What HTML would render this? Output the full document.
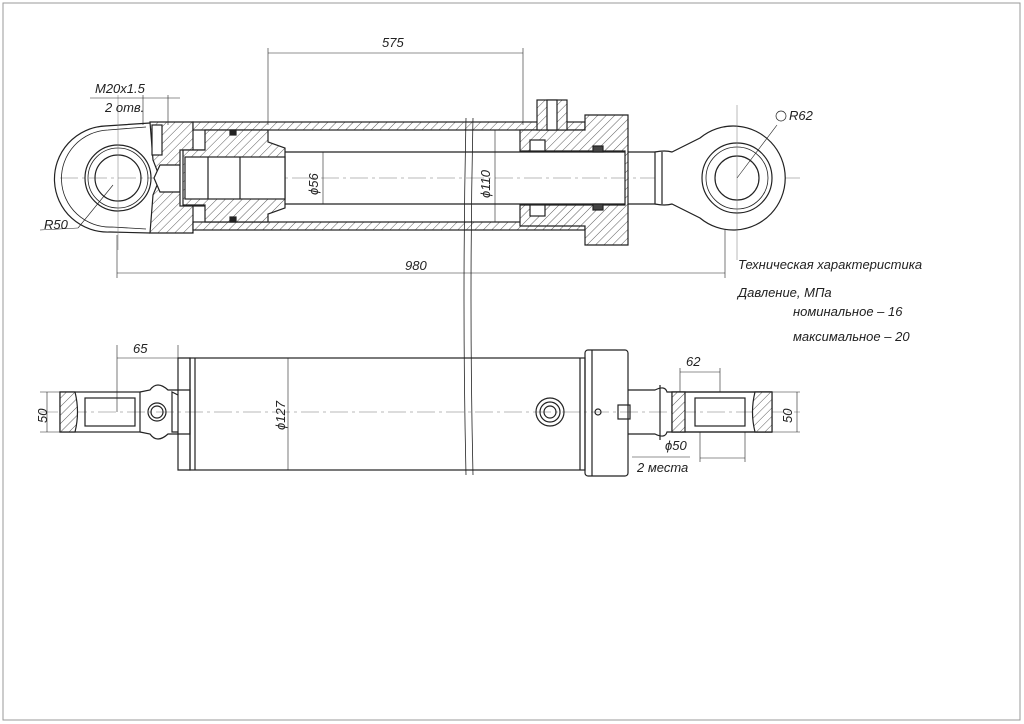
<!DOCTYPE html>
<html><head><meta charset="utf-8"><style>
html,body{margin:0;padding:0;background:#fff}
svg{display:block}
text{font-family:"Liberation Sans","DejaVu Sans",sans-serif;font-style:italic;fill:#222}
</style></head><body>
<svg width="1024" height="724" viewBox="0 0 1024 724" xmlns="http://www.w3.org/2000/svg">
<defs>
<pattern id="h" width="6" height="6" patternUnits="userSpaceOnUse" patternTransform="rotate(45)">
<rect width="6" height="6" fill="#fff"/><line x1="0" y1="0" x2="0" y2="6" stroke="#333" stroke-width="0.8"/></pattern>
</defs>
<rect x="3" y="3" width="1017" height="717" fill="none" stroke="#999" stroke-width="1"/>
<g stroke="#222" fill="none" stroke-width="1.2">
<!-- centerlines -->
<line x1="60" y1="178" x2="800" y2="178" stroke="#777" stroke-width="0.6" stroke-dasharray="18 4 3 4"/>
<line x1="40" y1="412" x2="800" y2="412" stroke="#777" stroke-width="0.6" stroke-dasharray="18 4 3 4"/>
<!-- left eye top -->
<path d="M150 123 L105 126 A52 52 0 0 0 110 232 L150 233" />
<path d="M146 127 L108 130 A47 47 0 0 0 112 227 L146 229" stroke-width="0.8"/>
<circle cx="118" cy="178" r="33"/>
<circle cx="118" cy="178" r="30" stroke-width="0.8"/>
<circle cx="118" cy="178" r="23"/>
<line x1="118" y1="95" x2="118" y2="250" stroke="#777" stroke-width="0.5"/>
<line x1="78" y1="228" x2="113" y2="185" stroke-width="0.6"/>
<line x1="40" y1="230" x2="78" y2="228" stroke-width="0.6"/>
<!-- left head -->
<path d="M150 122 L193 122 L193 233 L150 233 L153 195 L160 178 L153 160 Z" fill="url(#h)"/>
<rect x="152" y="125" width="10" height="30" fill="#fff"/>
<path d="M160 165 L180 165 L180 192 L160 192 L154 178 Z" fill="#fff"/>
<rect x="180" y="150" width="28" height="56" fill="#fff"/>
<!-- tube -->
<rect x="193" y="122" width="392" height="8" fill="url(#h)"/>
<rect x="193" y="222" width="392" height="8" fill="url(#h)"/>
<!-- piston -->
<path d="M205 130 L268 130 L268 142 L285 148 L285 208 L268 214 L268 222 L205 222 L205 205 L183 205 L183 150 L205 150 Z" fill="url(#h)"/>
<rect x="185" y="157" width="100" height="42" fill="#fff"/>
<line x1="208" y1="157" x2="208" y2="199"/><line x1="240" y1="157" x2="240" y2="199"/>
<rect x="230" y="130" width="6" height="5" fill="#222"/><rect x="230" y="217" width="6" height="5" fill="#222"/>
<!-- rod -->
<line x1="285" y1="152" x2="660" y2="152"/><line x1="285" y1="204" x2="660" y2="204"/>
<!-- gland -->
<path d="M520 130 L585 130 L585 115 L628 115 L628 245 L585 245 L585 226 L520 226 L520 205 L625 205 L625 151 L520 151 Z" fill="url(#h)"/>
<rect x="537" y="100" width="30" height="30" fill="url(#h)"/>
<rect x="547" y="100" width="10" height="30" fill="#fff"/>
<rect x="530" y="140" width="15" height="11" fill="#fff"/><rect x="530" y="205" width="15" height="11" fill="#fff"/>
<rect x="593" y="146" width="10" height="6" fill="#444"/><rect x="593" y="204" width="10" height="6" fill="#444"/>
<!-- rod end eye -->
<path d="M655 152 Q665 150 672 152 L700 138 A52 52 0 1 1 700 218 L672 204 Q665 206 655 204 Z" fill="#fff"/>
<line x1="662" y1="152" x2="662" y2="204"/>
<circle cx="737" cy="178" r="35"/>
<circle cx="737" cy="178" r="31" stroke-width="0.8"/>
<circle cx="737" cy="178" r="22"/>
<line x1="737" y1="105" x2="737" y2="260" stroke="#777" stroke-width="0.5"/>
<line x1="737" y1="178" x2="777" y2="125" stroke-width="0.6"/>
<circle cx="781" cy="116" r="5" stroke-width="0.7"/>
<!-- break line -->
<path d="M466 118 Q462 300 466 475" stroke-width="0.8"/>
<path d="M473 118 Q469 300 473 475" stroke-width="0.8"/>
<!-- dims top -->
<g stroke-width="0.6">
<line x1="268" y1="48" x2="268" y2="125"/><line x1="523" y1="48" x2="523" y2="125"/>
<line x1="268" y1="53" x2="523" y2="53"/>
<line x1="117" y1="235" x2="117" y2="278"/><line x1="725" y1="230" x2="725" y2="278"/>
<line x1="117" y1="273" x2="725" y2="273"/>
<line x1="323" y1="152" x2="323" y2="204"/>
<line x1="495" y1="130" x2="495" y2="222"/>
<line x1="90" y1="98" x2="180" y2="98"/>
<line x1="143" y1="95" x2="143" y2="125"/><line x1="168" y1="95" x2="168" y2="125"/>
</g>
<!-- bottom view -->
<path d="M178 358 L190 358 L190 470 L178 470 Z"/>
<path d="M178 395 L172 392 L172 432 L178 432"/>
<rect x="190" y="358" width="395" height="112"/>
<line x1="195" y1="358" x2="195" y2="470"/>
<line x1="580" y1="358" x2="580" y2="470"/>
<rect x="585" y="350" width="43" height="126" rx="3"/>
<line x1="592" y1="350" x2="592" y2="476"/>
<circle cx="598" cy="412" r="3"/>
<rect x="618" y="405" width="12" height="14"/>
<path d="M628 390 L655 390 Q665 385 667 392 L772 392 M628 434 L655 434 Q665 439 667 432 L772 432"/>
<line x1="660" y1="385" x2="660" y2="440"/>
<rect x="672" y="392" width="100" height="40"/>
<path d="M755 392 L772 392 L772 432 L755 432 Q750 412 755 392 Z" fill="url(#h)"/>
<path d="M672 392 L685 392 L685 432 L672 432 Z" fill="url(#h)"/>
<rect x="695" y="398" width="50" height="28"/>
<rect x="60" y="392" width="80" height="40"/>
<path d="M60 392 L75 392 Q80 412 75 432 L60 432 Z" fill="url(#h)"/>
<rect x="85" y="398" width="50" height="28"/>
<path d="M140 392 L150 390 Q157 380 168 390 L190 390 L190 434 L168 434 Q157 444 150 434 L140 432"/>
<circle cx="157" cy="412" r="9"/><circle cx="157" cy="412" r="6"/>
<circle cx="550" cy="412" r="14"/><circle cx="550" cy="412" r="10"/><circle cx="550" cy="412" r="6"/>
<g stroke-width="0.6">
<line x1="117" y1="345" x2="117" y2="412"/><line x1="178" y1="345" x2="178" y2="390"/>
<line x1="117" y1="358" x2="178" y2="358"/>
<line x1="40" y1="392" x2="60" y2="392"/><line x1="40" y1="432" x2="60" y2="432"/>
<line x1="47" y1="392" x2="47" y2="432"/>
<line x1="288" y1="358" x2="288" y2="470"/>
<line x1="680" y1="368" x2="680" y2="392"/><line x1="720" y1="368" x2="720" y2="392"/>
<line x1="680" y1="372" x2="720" y2="372"/>
<line x1="772" y1="392" x2="800" y2="392"/><line x1="772" y1="432" x2="800" y2="432"/>
<line x1="797" y1="392" x2="797" y2="432"/>
<line x1="700" y1="432" x2="700" y2="462"/><line x1="745" y1="432" x2="745" y2="462"/>
<line x1="700" y1="458" x2="745" y2="458"/>
<line x1="632" y1="457" x2="690" y2="457"/>
</g>
</g>
<g font-size="13">
<text x="382" y="47">575</text>
<text x="405" y="270">980</text>
<text x="95" y="93">M20x1.5</text>
<text x="105" y="112">2 отв.</text>
<text x="44" y="229">R50</text>
<text x="789" y="120">R62</text>
<text transform="translate(318,195) rotate(-90)">ϕ56</text>
<text transform="translate(490,198) rotate(-90)">ϕ110</text>
<text x="738" y="269">Техническая характеристика</text>
<text x="738" y="297">Давление, МПа</text>
<text x="793" y="316">номинальное  –   16</text>
<text x="793" y="341">максимальное – 20</text>
<text x="133" y="353">65</text>
<text x="686" y="366">62</text>
<text transform="translate(47,423) rotate(-90)">50</text>
<text transform="translate(792,423) rotate(-90)">50</text>
<text transform="translate(285,430) rotate(-90)">ϕ127</text>
<text x="665" y="450">ϕ50</text>
<text x="637" y="472">2 места</text>
</g>
</svg>
</body></html>
